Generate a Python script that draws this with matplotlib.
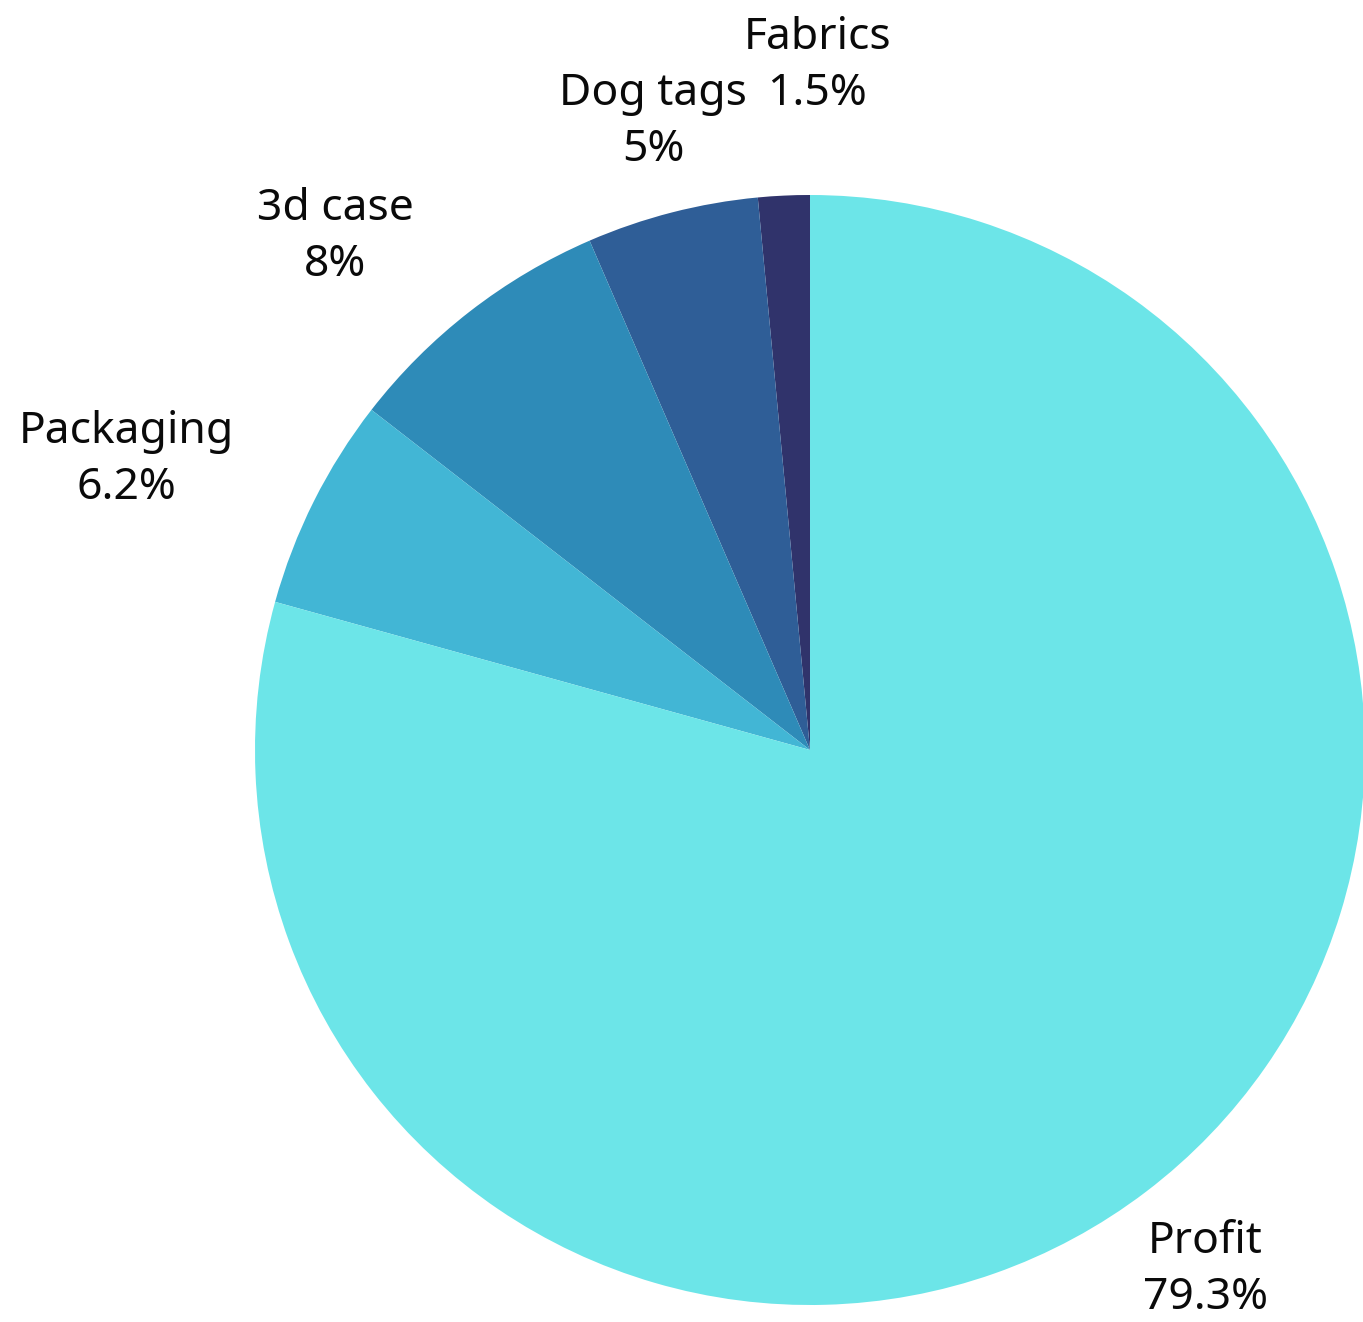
import numpy as np
import matplotlib.pyplot as plt

# cost breakdown, listed counter-clockwise from 12 o'clock
categories = ['Fabrics', 'Dog tags', '3d case', 'Packaging', 'Profit']
shares = [1.5, 5, 8, 6.2, 79.3]
share_labels = ['1.5%', '5%', '8%', '6.2%', '79.3%']

colors = ['#30336b', '#2f5e97', '#2e8bb8', '#42b6d5', '#6ce5e8']
# where each label block sits, in units of the pie radius
label_xy = [(0.013, 1.232), (-0.283, 1.132), (-0.856, 0.924),
            (-1.231, 0.523), (0.712, -0.937)]

W, H = 1363, 1322
cx, cy, r = 810, 750, 555

fig = plt.figure(figsize=(W / 100, H / 100), dpi=100)
ax = fig.add_axes([0, 0, 1, 1])

ax.pie(shares, colors=colors, startangle=90, counterclock=True,
       radius=1, center=(0, 0), wedgeprops=dict(linewidth=0))

for name, lab, (x, y) in zip(categories, share_labels, label_xy):
    ax.text(x, y, '{}\n{}'.format(name, lab), ha='center', va='center',
            multialignment='center', fontsize=32, family='Noto Sans',
            linespacing=1.36, color='#0a0a0a')

ax.set_xlim(-cx / r, (W - cx) / r)
ax.set_ylim(-(H - cy) / r, cy / r)
ax.set_aspect('equal')
ax.axis('off')

fig.savefig('out.png', dpi=100, facecolor='white')
